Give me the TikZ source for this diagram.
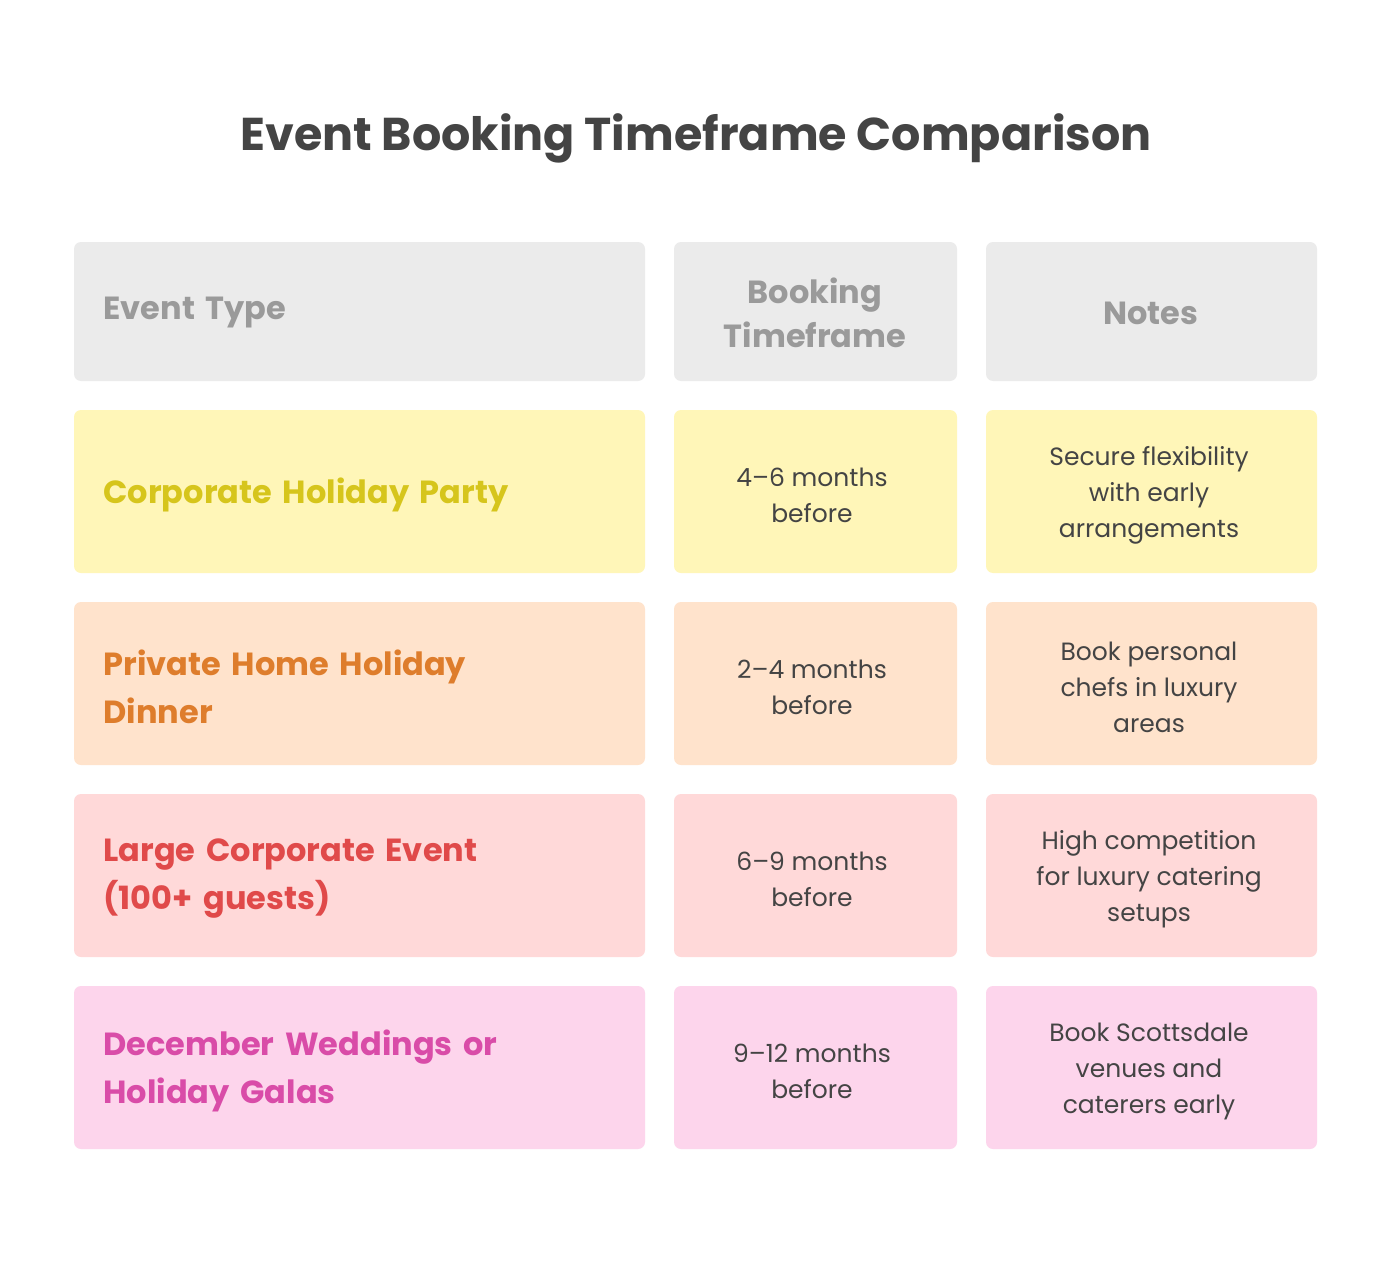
\documentclass[tikz,border=0pt]{standalone}
\usepackage{fontspec}
\setmainfont{Poppins}
\definecolor{hdrf}{HTML}{EBEBEB}\definecolor{hdrt}{HTML}{9A9A9A}
\definecolor{yf}{HTML}{FFF6B8}\definecolor{yt}{HTML}{D6C51C}
\definecolor{of}{HTML}{FFE3CC}\definecolor{ot}{HTML}{DE7D2C}
\definecolor{rf}{HTML}{FFD9D9}\definecolor{rt}{HTML}{E04A4A}
\definecolor{pf}{HTML}{FDD5EC}\definecolor{pt}{HTML}{D94CA8}
\definecolor{body}{HTML}{444444}
\begin{document}
\begin{tikzpicture}[x=1pt,y=-1pt,
 cell/.style={rounded corners=7pt,draw=none},
 first/.style={font=\fontsize{32}{48}\selectfont\bfseries,anchor=west,align=left,text width=540pt},
 other/.style={font=\fontsize{25}{36}\selectfont,text=body,align=center}]
\useasboundingbox (0,0) rectangle (1392,1284);
\fill[white] (0,0) rectangle (1392,1284);
\node[font=\fontsize{46}{54}\selectfont\bfseries,text=body] (title) at (696,138) {Event Booking Timeframe Comparison};
% header
\fill[cell,hdrf] (74,242) rectangle (645,381);
\fill[cell,hdrf] (674,242) rectangle (957,381);
\fill[cell,hdrf] (986,242) rectangle (1317,381);
\node[first,text=hdrt] (h1) at (100,313) {Event Type};
\node[other,text=hdrt,font=\fontsize{32}{44}\selectfont\bfseries] (h2) at (815,313) {Booking\\Timeframe};
\node[other,text=hdrt,font=\fontsize{32}{44}\selectfont\bfseries] (h3) at (1151,313) {Notes};
% rows
\foreach \y/\f/\t/\a/\b/\c [count=\i] in {
 410/yf/yt/{Corporate Holiday Party}/{4--6 months\\before}/{Secure flexibility\\with early\\arrangements},
 602/of/ot/{Private Home Holiday\\Dinner}/{2--4 months\\before}/{Book personal\\chefs in luxury\\areas},
 794/rf/rt/{Large Corporate Event\\(100+ guests)}/{6--9 months\\before}/{High competition\\for luxury catering\\setups},
 986/pf/pt/{December Weddings or\\Holiday Galas}/{9--12 months\\before}/{Book Scottsdale\\venues and\\caterers early}}{
 \fill[cell,\f] (74,\y) rectangle (645,\y+163);
 \fill[cell,\f] (674,\y) rectangle (957,\y+163);
 \fill[cell,\f] (986,\y) rectangle (1317,\y+163);
 \node[first,text=\t] (a\i) at (100,\y+85) {\a};
 \node[other] (b\i) at (812,\y+85) {\b};
 \node[other] (c\i) at (1149,\y+85) {\c};
}
\end{tikzpicture}
\end{document}
